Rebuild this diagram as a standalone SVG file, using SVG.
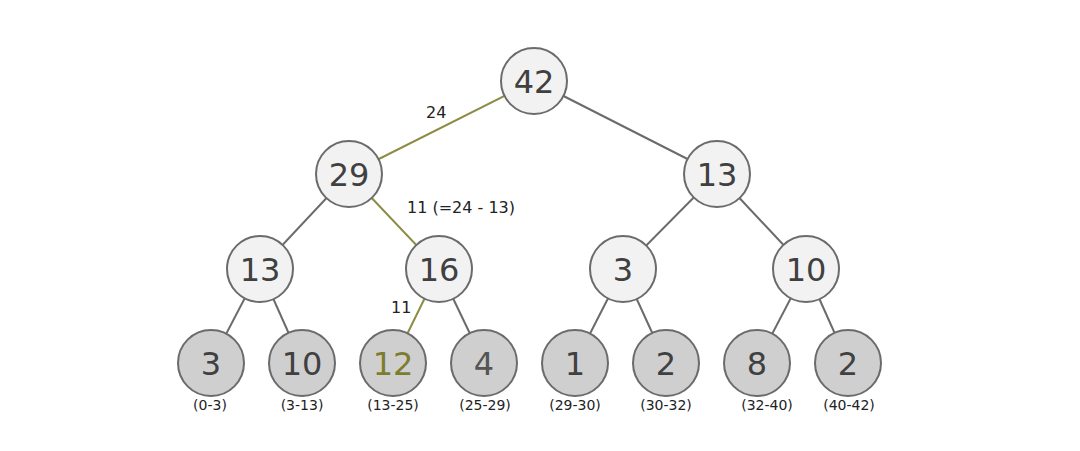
<svg xmlns="http://www.w3.org/2000/svg" width="1080" height="451" viewBox="0 0 1080 451">
<style>
.e{stroke:#6b6b6b;stroke-width:2;fill:none}
.h{stroke:#8c8c45;stroke-width:2;fill:none}
.in circle{fill:#f2f2f2;stroke:#6b6b6b;stroke-width:2}
.lf circle{fill:#cfcfcf;stroke:#6b6b6b;stroke-width:2}
.n text{font-family:"DejaVu Sans",sans-serif;font-size:32px;fill:#404040;text-anchor:middle;dominant-baseline:central}
.r{font-family:"DejaVu Sans",sans-serif;font-size:14px;fill:#222;text-anchor:middle}
.l{font-family:"DejaVu Sans",sans-serif;font-size:16px;fill:#222}
</style>
<rect width="1080" height="451" fill="#fff"/>
<g id="connectors">
<line class="h" x1="534" y1="81" x2="349" y2="174"/>
<line class="e" x1="534" y1="81" x2="717" y2="174"/>
<line class="e" x1="349" y1="174" x2="260" y2="269"/>
<line class="h" x1="349" y1="174" x2="439" y2="269"/>
<line class="e" x1="717" y1="174" x2="623" y2="269"/>
<line class="e" x1="717" y1="174" x2="806" y2="269"/>
<line class="e" x1="260" y1="269" x2="211" y2="363"/>
<line class="e" x1="260" y1="269" x2="302" y2="363"/>
<line class="h" x1="439" y1="269" x2="393" y2="363"/>
<line class="e" x1="439" y1="269" x2="484" y2="363"/>
<line class="e" x1="623" y1="269" x2="575" y2="363"/>
<line class="e" x1="623" y1="269" x2="666" y2="363"/>
<line class="e" x1="806" y1="269" x2="757" y2="363"/>
<line class="e" x1="806" y1="269" x2="848" y2="363"/>
<text class="l" x="426" y="118">24</text>
<text class="l" x="407" y="213">11 (=24 - 13)</text>
<text class="l" x="391" y="313">11</text>
</g>
<g id="n42" class="n in"><circle cx="534" cy="81" r="33"/><text x="534" y="82">42</text></g>
<g id="n29" class="n in"><circle cx="349" cy="174" r="33"/><text x="349" y="175">29</text></g>
<g id="n13a" class="n in"><circle cx="717" cy="174" r="33"/><text x="717" y="175">13</text></g>
<g id="n13b" class="n in"><circle cx="260" cy="269" r="33"/><text x="260" y="270">13</text></g>
<g id="n16" class="n in"><circle cx="439" cy="269" r="33"/><text x="439" y="270">16</text></g>
<g id="n3a" class="n in"><circle cx="623" cy="269" r="33"/><text x="623" y="270">3</text></g>
<g id="n10a" class="n in"><circle cx="806" cy="269" r="33"/><text x="806" y="270">10</text></g>
<g id="l3" class="n lf"><circle cx="211" cy="363" r="33"/><text x="211" y="364">3</text></g>
<g id="l10" class="n lf"><circle cx="302" cy="363" r="33"/><text x="302" y="364">10</text></g>
<g id="l12" class="n lf"><circle cx="393" cy="363" r="33"/><text x="393" y="364" style="fill:#7d7d2e">12</text></g>
<g id="l4" class="n lf"><circle cx="484" cy="363" r="33"/><text x="484" y="364" style="fill:#555">4</text></g>
<g id="l1" class="n lf"><circle cx="575" cy="363" r="33"/><text x="575" y="364">1</text></g>
<g id="l2a" class="n lf"><circle cx="666" cy="363" r="33"/><text x="666" y="364">2</text></g>
<g id="l8" class="n lf"><circle cx="757" cy="363" r="33"/><text x="757" y="364">8</text></g>
<g id="l2b" class="n lf"><circle cx="848" cy="363" r="33"/><text x="848" y="364">2</text></g>
<g id="ranges">
<text class="r" x="210" y="410">(0-3)</text>
<text class="r" x="302" y="410">(3-13)</text>
<text class="r" x="393" y="410">(13-25)</text>
<text class="r" x="485" y="410">(25-29)</text>
<text class="r" x="575" y="410">(29-30)</text>
<text class="r" x="666" y="410">(30-32)</text>
<text class="r" x="767" y="410">(32-40)</text>
<text class="r" x="849" y="410">(40-42)</text>
</g>
</svg>
